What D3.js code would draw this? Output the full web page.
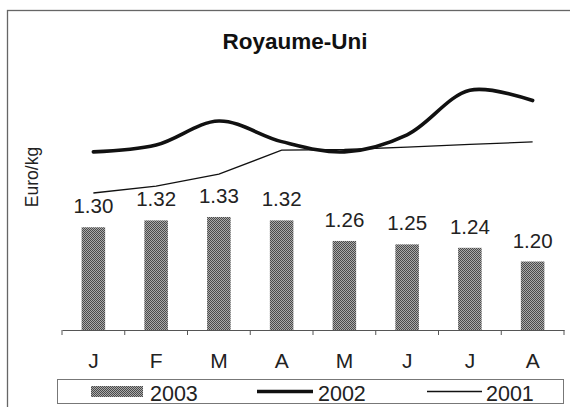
<!DOCTYPE html>
<html>
<head>
<meta charset="utf-8">
<script src="https://cdn.jsdelivr.net/npm/d3@7"></script>
<style>
  body { margin: 0; background: #fff; }
  svg { display: block; font-family: "Liberation Sans", Arial, sans-serif; }
</style>
</head>
<body>
<div id="chart"></div>
<script>
// Data
const months = ["J", "F", "M", "A", "M", "J", "J", "A"];
const values2003 = [1.30, 1.32, 1.33, 1.32, 1.26, 1.25, 1.24, 1.20];
const values2002 = [1.52, 1.54, 1.61, 1.55, 1.52, 1.57, 1.70, 1.67];
const values2001 = [1.40, 1.42, 1.455, 1.525, 1.527, 1.534, 1.542, 1.549];
const legendLabels = ["2003", "2002", "2001"];

const width = 570, height = 407;

const svg = d3.select("#chart")
    .append("svg")
    .attr("width", width)
    .attr("height", height);

// Pattern for bars (dithered grey)
const defs = svg.append("defs");
const pat = defs.append("pattern")
    .attr("id", "dots")
    .attr("width", 2)
    .attr("height", 2)
    .attr("patternUnits", "userSpaceOnUse");
pat.append("rect").attr("width", 2).attr("height", 2).attr("fill", "#aaa");
pat.append("rect").attr("width", 1).attr("height", 1).attr("fill", "#4a4a4a");
pat.append("rect").attr("x", 1).attr("y", 1).attr("width", 1).attr("height", 1).attr("fill", "#4a4a4a");

// Outer frame (right and bottom edges fall outside the picture)
svg.append("rect")
    .attr("x", 7.5)
    .attr("y", 10.5)
    .attr("width", 620)
    .attr("height", 500)
    .attr("fill", "none")
    .attr("stroke", "#666")
    .attr("stroke-width", 1.3);

// Title
svg.append("text")
    .attr("x", 295)
    .attr("y", 49)
    .attr("text-anchor", "middle")
    .style("font-size", "22.5px")
    .style("font-weight", "bold")
    .attr("fill", "#111")
    .text("Royaume-Uni");

// Scales
const x = d3.scaleBand()
    .domain(d3.range(months.length))
    .range([62, 564])
    .paddingInner(0.625)
    .paddingOuter(0.3125);

const y = d3.scaleLinear()
    .domain([1.0, 1.8])
    .range([330, 56]);

// Y label
svg.append("text")
    .attr("transform", "translate(38,177) rotate(-90)")
    .attr("text-anchor", "middle")
    .style("font-size", "17.5px")
    .attr("fill", "#222")
    .text("Euro/kg");

// Bars
svg.selectAll(".bar")
    .data(values2003)
    .enter()
    .append("rect")
    .attr("class", "bar")
    .attr("x", (d, i) => x(i))
    .attr("y", d => y(d))
    .attr("width", x.bandwidth())
    .attr("height", d => y(1.0) - y(d))
    .attr("fill", "url(#dots)");

// Value labels
svg.selectAll(".val")
    .data(values2003)
    .enter()
    .append("text")
    .attr("class", "val")
    .attr("x", (d, i) => x(i) + x.bandwidth() / 2)
    .attr("y", d => y(d) - 14)
    .attr("text-anchor", "middle")
    .style("font-size", "20.5px")
    .attr("fill", "#222")
    .text(d => d.toFixed(2));

// Lines
const line2002 = d3.line()
    .x((d, i) => x(i) + x.bandwidth() / 2)
    .y(d => y(d))
    .curve(d3.curveCatmullRom.alpha(0.5));

const line2001 = d3.line()
    .x((d, i) => x(i) + x.bandwidth() / 2)
    .y(d => y(d));

svg.append("path")
    .datum(values2001)
    .attr("fill", "none")
    .attr("stroke", "#111")
    .attr("stroke-width", 1.3)
    .attr("d", line2001);

svg.append("path")
    .datum(values2002)
    .attr("fill", "none")
    .attr("stroke", "#111")
    .attr("stroke-width", 3.6)
    .attr("stroke-linejoin", "round")
    .attr("stroke-linecap", "round")
    .attr("d", line2002);

// X axis
const xAxis = svg.append("g")
    .attr("transform", "translate(0,330)")
    .call(d3.axisBottom(x).tickSize(0).tickPadding(23).tickFormat(i => months[i]));
xAxis.select(".domain").attr("stroke", "#555");
xAxis.selectAll(".tick text")
    .style("font-size", "21px")
    .attr("fill", "#222")
    .style("font-family", "'Liberation Sans', Arial, sans-serif");

// Tick marks at band boundaries
xAxis.selectAll(".bound")
    .data(d3.range(months.length + 1))
    .enter()
    .append("line")
    .attr("class", "bound")
    .attr("x1", i => x.range()[0] + i * x.step())
    .attr("x2", i => x.range()[0] + i * x.step())
    .attr("y1", 0)
    .attr("y2", 5)
    .attr("stroke", "#555");

// Legend
const legend = svg.append("g");
legend.append("rect")
    .attr("x", 57.5)
    .attr("y", 379.5)
    .attr("width", 506)
    .attr("height", 24)
    .attr("fill", "none")
    .attr("stroke", "#777");

legend.append("rect")
    .attr("x", 91)
    .attr("y", 386)
    .attr("width", 52)
    .attr("height", 11)
    .attr("fill", "url(#dots)");

legend.append("line")
    .attr("x1", 257).attr("x2", 313)
    .attr("y1", 391.5).attr("y2", 391.5)
    .attr("stroke", "#111")
    .attr("stroke-width", 3.6);

legend.append("line")
    .attr("x1", 427).attr("x2", 482)
    .attr("y1", 391.5).attr("y2", 391.5)
    .attr("stroke", "#111")
    .attr("stroke-width", 1.3);

legend.selectAll(".leg")
    .data(legendLabels)
    .enter()
    .append("text")
    .attr("class", "leg")
    .attr("x", (d, i) => [150, 318, 486][i])
    .attr("y", 401)
    .style("font-size", "21.5px")
    .attr("fill", "#222")
    .text(d => d);
</script>
</body>
</html>
